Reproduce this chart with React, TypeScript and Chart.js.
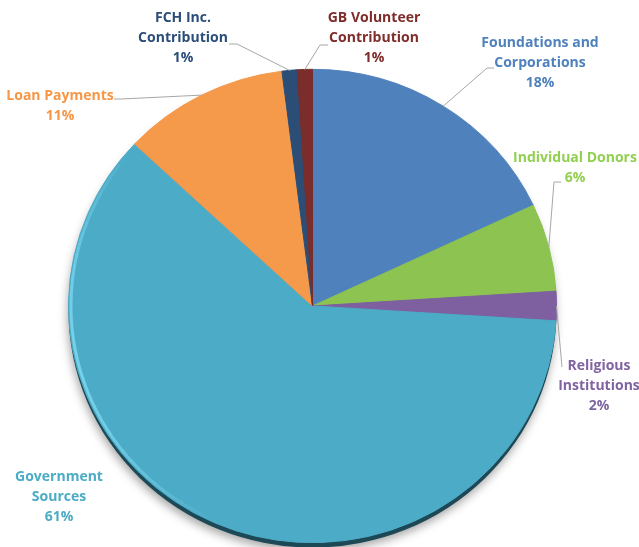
import { useEffect, useRef } from "react";
import { Chart, registerables } from "chart.js";

Chart.register(...registerables);

// ---- data ----
const categories = [
  "Foundations and Corporations",
  "Individual Donors",
  "Religious Institutions",
  "Government Sources",
  "Loan Payments",
  "FCH Inc. Contribution",
  "GB Volunteer Contribution",
];
const values = [18, 6, 2, 61, 11, 1, 1];
const labelLines = [
  ["Foundations and", "Corporations"],
  ["Individual Donors"],
  ["Religious", "Institutions"],
  ["Government", "Sources"],
  ["Loan Payments"],
  ["FCH Inc.", "Contribution"],
  ["GB Volunteer", "Contribution"],
];

// ---- styles ----
const sliceColors = ["#4F81BD", "#8DC351", "#7E60A0", "#4CABC6", "#F5994B", "#2C4E76", "#7A2D2B"];
const labelColors = ["#4F81BD", "#92D050", "#8064A2", "#4BACC6", "#F79646", "#2B4D7A", "#7F2D2B"];

// ---- label layout (text centre of first line, leader path after the arc point) ----
const labelAnchors = [
  { x: 540, y: 43 },
  { x: 575, y: 158 },
  { x: 599, y: 366 },
  { x: 59, y: 477 },
  { x: 60, y: 96 },
  { x: 183, y: 18 },
  { x: 374, y: 18 },
];
const leaderPaths: number[][][] = [
  [[487, 68], [494, 68]],
  [[554, 182], [561, 182]],
  [[562, 367]],
  [],
  [[121, 99], [114, 99]],
  [[237, 44], [229, 44]],
  [[320, 45], [328, 45]],
];
const LINE_HEIGHT = 20;
const FONT = "bold 14px 'Open Sans', 'Noto Sans', sans-serif";
const PIE_SQUASH = 0.97; // slight vertical tilt of the pie
const PIE_CENTER_Y = 306;

const total = values.reduce((a, b) => a + b, 0);

const pieDecor = {
  id: "pieDecor",
  beforeDatasetsDraw(chart: any) {
    const ctx: CanvasRenderingContext2D = chart.ctx;
    const arc: any = chart.getDatasetMeta(0).data[0];
    if (!arc) return;
    const { x, y, outerRadius } = arc;
    ctx.save();
    ctx.translate(0, PIE_CENTER_Y);
    ctx.scale(1, PIE_SQUASH);
    ctx.translate(0, -y);
    ctx.save();
    ctx.shadowColor = "rgba(0,0,0,0.35)";
    ctx.shadowBlur = 10;
    ctx.shadowOffsetY = 4;
    ctx.shadowOffsetX = -1;
    ctx.fillStyle = "#1d4855";
    ctx.beginPath();
    ctx.arc(x, y + 5, outerRadius, 0, Math.PI * 2);
    ctx.fill();
    ctx.restore();
  },
  afterDatasetsDraw(chart: any) {
    const ctx: CanvasRenderingContext2D = chart.ctx;
    const meta = chart.getDatasetMeta(0);
    const first: any = meta.data[0];
    if (!first) return;
    const { x, y, outerRadius } = first;

    // subtle highlight along left edge (still in squashed space)
    ctx.save();
    ctx.lineWidth = 3;
    const steps = 40;
    const a0 = Math.PI * 0.62;
    const a1 = Math.PI * 1.22;
    for (let i = 0; i < steps; i++) {
      const t = i / steps;
      const s = a0 + (a1 - a0) * t;
      const e = a0 + (a1 - a0) * (t + 1 / steps);
      const alpha = Math.sin(Math.PI * t) * 0.85;
      ctx.strokeStyle = `rgba(125,215,240,${alpha.toFixed(3)})`;
      ctx.beginPath();
      ctx.arc(x, y, outerRadius - 2.5, s, e + 0.002);
      ctx.stroke();
    }
    ctx.restore();
    ctx.restore(); // end of squash transform

    const mapY = (yy: number) => PIE_CENTER_Y + (yy - y) * PIE_SQUASH;

    // leader lines
    ctx.save();
    ctx.strokeStyle = "#A6A6A6";
    ctx.lineWidth = 1;
    meta.data.forEach((el: any, i: number) => {
      const path = leaderPaths[i];
      if (!path || path.length === 0) return;
      const mid = (el.startAngle + el.endAngle) / 2;
      const sx = el.x + Math.cos(mid) * el.outerRadius;
      const sy = mapY(el.y + Math.sin(mid) * el.outerRadius);
      ctx.beginPath();
      ctx.moveTo(sx, sy);
      path.forEach((p) => ctx.lineTo(p[0], p[1]));
      ctx.stroke();
    });
    ctx.restore();

    // labels
    ctx.save();
    ctx.font = FONT;
    ctx.textAlign = "center";
    ctx.textBaseline = "middle";
    categories.forEach((_, i) => {
      const lines = [...labelLines[i], Math.round((values[i] / total) * 100) + "%"];
      ctx.fillStyle = labelColors[i];
      const a = labelAnchors[i];
      lines.forEach((ln, k) => ctx.fillText(ln, a.x, a.y + k * LINE_HEIGHT));
    });
    ctx.restore();
  },
};

export default function App() {
  const ref = useRef<HTMLCanvasElement | null>(null);
  useEffect(() => {
    document.body.style.margin = "0";
    if (!ref.current) return;
    const chart = new Chart(ref.current, {
      type: "pie",
      data: {
        labels: categories,
        datasets: [
          {
            data: values,
            backgroundColor: sliceColors,
            borderColor: sliceColors,
            borderWidth: 1,
          },
        ],
      },
      options: {
        responsive: false,
        animation: false,
        layout: { padding: { top: 58, bottom: 0, left: 68, right: 82 } },
        plugins: {
          legend: { display: false },
          tooltip: { enabled: false },
        },
      },
      plugins: [pieDecor],
    });
    return () => chart.destroy();
  }, []);
  return (
    <div style={{ width: 639, height: 547, background: "#fff" }}>
      <canvas ref={ref} width={639} height={547} />
    </div>
  );
}
